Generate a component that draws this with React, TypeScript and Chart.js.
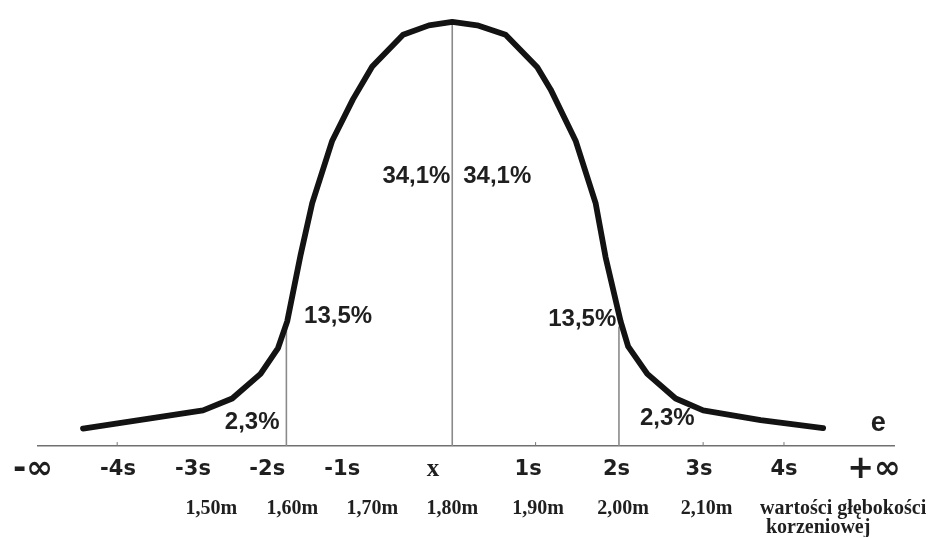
import { useEffect, useRef } from 'react';
import { Chart, registerables } from 'chart.js';

Chart.register(...registerables);

// Bell curve vertices (x in units of s from the mean, y relative height, peak = 100)
const curveX = [-4.43, -3.62, -2.99, -2.64, -2.30, -2.09, -1.98, -1.82, -1.68, -1.44, -1.19, -0.96, -0.59, -0.28, 0, 0.3, 0.64, 1.02, 1.18, 1.48, 1.72, 1.84, 2.02, 2.11, 2.34, 2.68, 3.01, 3.70, 4.45];
const curveY = [4.1, 6.5, 8.4, 11.2, 17.0, 23.1, 29.4, 45.0, 57.3, 72.0, 81.8, 89.5, 97.0, 99.2, 100, 99.2, 97.0, 89.3, 84.1, 72.0, 57.3, 44.5, 29.4, 23.5, 17.0, 11.2, 8.4, 6.1, 4.2];

// Vertical reference lines at -2s, mean, +2s
const vLineX = [-1.99, 0, 2.0];
const vLineTop = [28.2, 100, 28.2];

// Small tick marks on the axis
const tickMarkX = [-4.02, 1.0, 3.01, 3.98];

// First row of axis labels
const row1Labels = ['-∞', '-4s', '-3s', '-2s', '-1s', 'x', '1s', '2s', '3s', '4s', '+∞'];
const row1Pos = [-5.03, -4.01, -3.11, -2.22, -1.32, -0.23, 0.91, 1.97, 2.96, 3.98, 5.06];

// Second row of axis labels
const row2Labels: (string | string[])[] = ['1,50m', '1,60m', '1,70m', '1,80m', '1,90m', '2,00m', '2,10m', ['wartości głębokości', 'korzeniowej          ']];
const row2Pos = [-2.89, -1.92, -0.96, 0.0, 1.03, 2.05, 3.05, 4.69];

// Percentage annotations
const pctLabels = ['34,1%', '34,1%', '13,5%', '13,5%', '2,3%', '2,3%'];
const pctX = [-0.43, 0.54, -1.37, 1.56, -2.40, 2.58];
const pctY = [63.6, 63.6, 30.5, 29.8, 5.6, 6.5];

const eLabel = 'e';
const eX = 5.11;
const eY = 5.4;

const X_MIN = -4.97;
const X_MAX = 5.3;

const textPlugin = {
  id: 'textLabels',
  afterDatasetsDraw(chart: any) {
    const { ctx, scales } = chart;
    const xs = scales.x;
    const ys = scales.y;
    ctx.save();
    ctx.fillStyle = '#1f1f1f';
    ctx.textAlign = 'center';
    ctx.textBaseline = 'middle';
    ctx.font = 'bold 24px "Liberation Sans", Arial, sans-serif';
    pctLabels.forEach((t, i) => {
      ctx.fillText(t, xs.getPixelForValue(pctX[i]), ys.getPixelForValue(pctY[i]));
    });
    ctx.font = 'bold 27px "Liberation Sans", Arial, sans-serif';
    ctx.fillText(eLabel, xs.getPixelForValue(eX), ys.getPixelForValue(eY));
    ctx.restore();
  },
};

export default function App() {
  const ref = useRef<HTMLCanvasElement | null>(null);

  useEffect(() => {
    if (!ref.current) return;
    const curve = curveX.map((x, i) => ({ x, y: curveY[i] }));
    const vDatasets = vLineX.map((x, i) => ({
      data: [
        { x, y: 0 },
        { x, y: vLineTop[i] },
      ],
      borderColor: '#8a8a8a',
      borderWidth: 1.6,
      pointRadius: 0,
      tension: 0,
      order: 2,
    }));
    const chart = new Chart(ref.current, {
      type: 'line',
      data: {
        datasets: [
          {
            data: curve,
            borderColor: '#131313',
            borderWidth: 5.8,
            pointRadius: 0,
            tension: 0,
            borderJoinStyle: 'round',
            borderCapStyle: 'round',
            order: 0,
          } as any,
          ...vDatasets,
          {
            data: tickMarkX.map((x) => ({ x, y: 0.45 })),
            showLine: false,
            pointStyle: 'line',
            rotation: 90,
            pointRadius: 2,
            borderColor: '#777',
            borderWidth: 1,
            order: 3,
          } as any,
        ],
      },
      options: {
        animation: false,
        responsive: true,
        maintainAspectRatio: false,
        events: [],
        layout: { padding: { left: 38, right: 38, top: 0, bottom: 1 } },
        plugins: {
          legend: { display: false },
          tooltip: { enabled: false },
        },
        scales: {
          x: {
            type: 'linear',
            position: 'bottom',
            weight: 0,
            min: X_MIN,
            max: X_MAX,
            grid: { display: false, drawTicks: false },
            border: { display: true, color: '#707070', width: 1.6 },
            afterBuildTicks: (scale: any) => {
              scale.ticks = row1Pos.map((v) => ({ value: v }));
            },
            afterFit: (scale: any) => {
              scale.height = 34;
              scale.paddingLeft = 0;
              scale.paddingRight = 0;
            },
            ticks: {
              autoSkip: false,
              maxRotation: 0,
              minRotation: 0,
              padding: 14,
              color: '#1f1f1f',
              callback: (_v: any, i: number) => row1Labels[i],
              font: (c: any) => {
                const lbl = row1Labels[c.index];
                if (lbl && lbl.includes('∞')) {
                  return { family: '"DejaVu Sans"', weight: 'bold', size: 32, lineHeight: '20px' };
                }
                if (lbl === 'x') {
                  return { family: '"Liberation Serif"', weight: 'bold', size: 25, lineHeight: '20px' };
                }
                return { family: '"DejaVu Sans"', weight: 'bold', size: 21, lineHeight: '20px' };
              },
            },
          },
          x2: {
            type: 'linear',
            axis: 'x',
            position: 'bottom',
            weight: 1,
            min: X_MIN,
            max: X_MAX,
            grid: { display: false, drawTicks: false },
            border: { display: false },
            afterBuildTicks: (scale: any) => {
              scale.ticks = row2Pos.map((v) => ({ value: v }));
            },
            afterFit: (scale: any) => {
              scale.height = 57;
              scale.paddingLeft = 0;
              scale.paddingRight = 0;
            },
            ticks: {
              autoSkip: false,
              maxRotation: 0,
              minRotation: 0,
              padding: 19,
              color: '#1f1f1f',
              callback: (_v: any, i: number) => row2Labels[i],
              font: { family: '"Liberation Serif"', weight: 'bold', size: 20, lineHeight: '19px' },
            },
          } as any,
          y: {
            type: 'linear',
            display: false,
            min: 0,
            max: 104,
          },
        },
      },
      plugins: [textPlugin],
    });
    return () => chart.destroy();
  }, []);

  return (
    <div style={{ position: 'fixed', left: 0, top: 0, width: 932, height: 538, background: '#fff' }}>
      <canvas ref={ref} />
    </div>
  );
}
